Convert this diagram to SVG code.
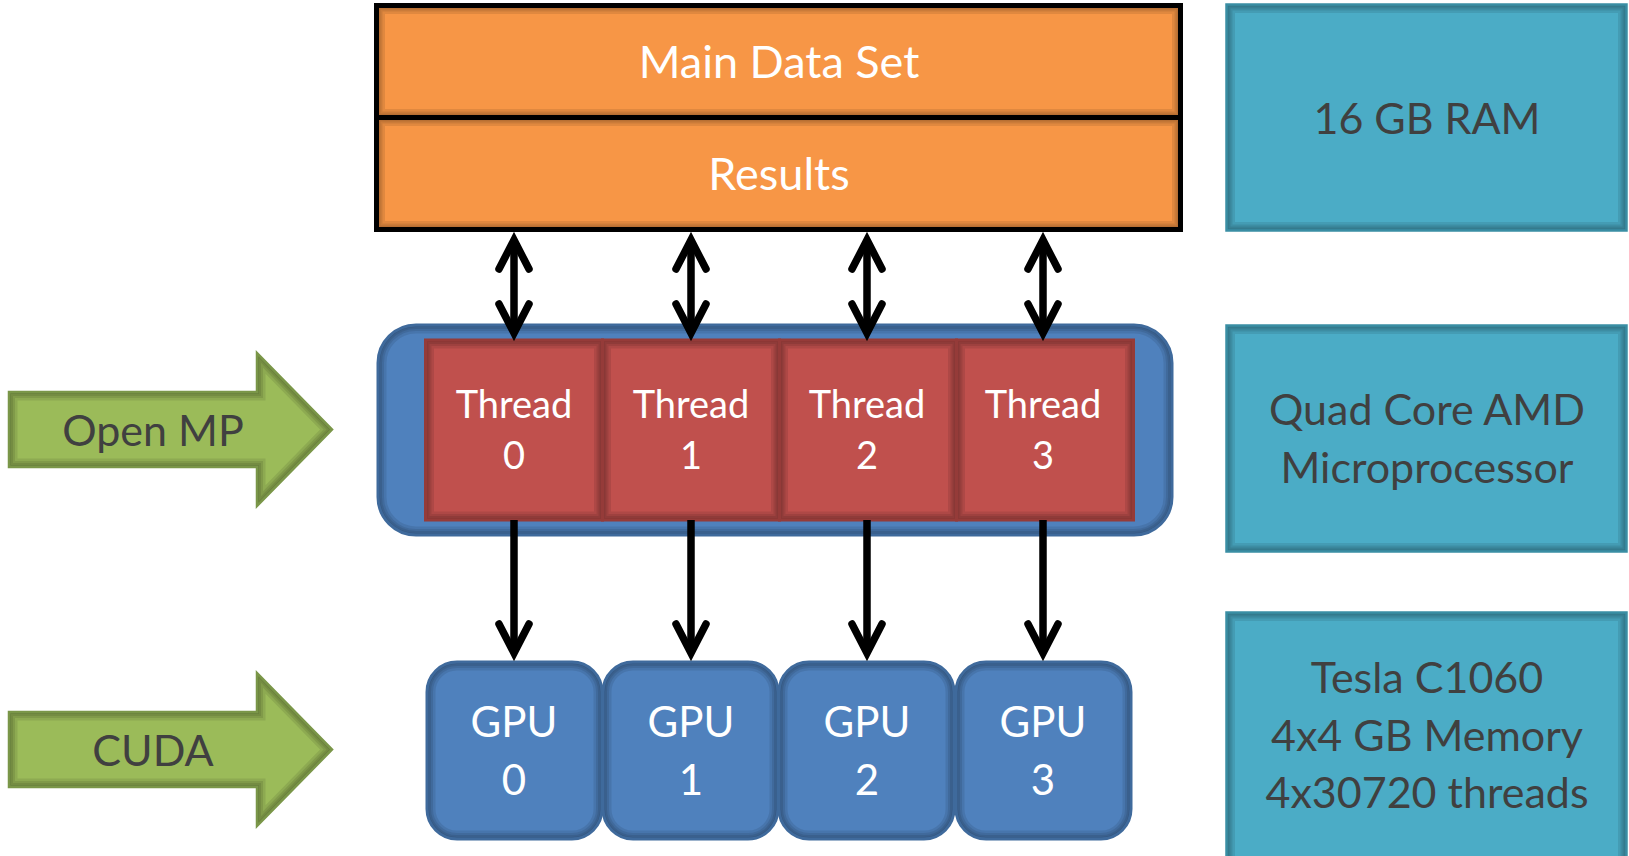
<svg xmlns="http://www.w3.org/2000/svg" xmlns:xlink="http://www.w3.org/1999/xlink" width="1629" height="856" viewBox="0 0 1629 856">
<style>
  .lbl { font-family: Lato, "Open Sans", sans-serif; text-anchor: middle; }
  .w { fill: #ffffff; }
  .d { fill: #404040; }
  .f-orange { fill: #F79646; stroke: none; }
  .l-orange { fill: none; stroke: #000000; stroke-width: 5; }
  .f-blue { fill: #4F81BD; stroke: none; }
  .l-blue { fill: none; stroke: #3F6A9C; stroke-width: 3; }
  .f-red { fill: #C0504D; stroke: none; }
  .l-red { fill: none; stroke: #953B39; stroke-width: 3; }
  .f-green { fill: #9BBB59; stroke: none; }
  .l-green { fill: none; stroke: #7A9648; stroke-width: 2.5; }
  .f-teal { fill: #4BACC6; stroke: none; }
  .l-teal { fill: none; stroke: #3A8EA4; stroke-width: 2.5; }
  .s1 { fill: none; stroke: #000000; stroke-opacity: 0.09; stroke-width: 4; }
  .s2 { fill: none; stroke: #000000; stroke-opacity: 0.09; stroke-width: 8; }
  .s3 { fill: none; stroke: #000000; stroke-opacity: 0.09; stroke-width: 12; }
  .s4 { fill: none; stroke: #000000; stroke-opacity: 0.09; stroke-width: 17; }
  .conn { stroke: #000000; stroke-width: 7.5; fill: none; }
</style>
<defs>
  <rect id="sOrange" width="804" height="112"/>
  <rect id="sProc" width="794" height="210" rx="38" ry="38"/>
  <rect id="sThread" width="177" height="180"/>
  <rect id="sGpu" width="175" height="177" rx="30" ry="30"/>
  <polygon id="sArrow" points="0,39 248,39 248,0 323,76.5 248,153 248,114 0,114"/>
  <rect id="sTeal" width="400" height="226"/>
  <rect id="sTealTall" width="400" height="262"/>

  <clipPath id="cOrange"><use xlink:href="#sOrange"/></clipPath>
  <clipPath id="cProc"><use xlink:href="#sProc"/></clipPath>
  <clipPath id="cThread"><use xlink:href="#sThread"/></clipPath>
  <clipPath id="cGpu"><use xlink:href="#sGpu"/></clipPath>
  <clipPath id="cArrow"><use xlink:href="#sArrow"/></clipPath>
  <clipPath id="cTeal"><use xlink:href="#sTeal"/></clipPath>
  <clipPath id="cTealTall"><use xlink:href="#sTealTall"/></clipPath>

  <g id="hOrange" clip-path="url(#cOrange)"><use xlink:href="#sOrange" class="s1"/><use xlink:href="#sOrange" class="s2"/><use xlink:href="#sOrange" class="s3"/><use xlink:href="#sOrange" class="s4"/></g>
  <g id="hProc" clip-path="url(#cProc)"><use xlink:href="#sProc" class="s1"/><use xlink:href="#sProc" class="s2"/><use xlink:href="#sProc" class="s3"/><use xlink:href="#sProc" class="s4"/></g>
  <g id="hThread" clip-path="url(#cThread)"><use xlink:href="#sThread" class="s1"/><use xlink:href="#sThread" class="s2"/><use xlink:href="#sThread" class="s3"/><use xlink:href="#sThread" class="s4"/></g>
  <g id="hGpu" clip-path="url(#cGpu)"><use xlink:href="#sGpu" class="s1"/><use xlink:href="#sGpu" class="s2"/><use xlink:href="#sGpu" class="s3"/><use xlink:href="#sGpu" class="s4"/></g>
  <g id="hArrow" clip-path="url(#cArrow)"><use xlink:href="#sArrow" class="s1"/><use xlink:href="#sArrow" class="s2"/><use xlink:href="#sArrow" class="s3"/><use xlink:href="#sArrow" class="s4"/></g>
  <g id="hTeal" clip-path="url(#cTeal)"><use xlink:href="#sTeal" class="s1"/><use xlink:href="#sTeal" class="s2"/><use xlink:href="#sTeal" class="s3"/><use xlink:href="#sTeal" class="s4"/></g>
  <g id="hTealTall" clip-path="url(#cTealTall)"><use xlink:href="#sTealTall" class="s1"/><use xlink:href="#sTealTall" class="s2"/><use xlink:href="#sTealTall" class="s3"/><use xlink:href="#sTealTall" class="s4"/></g>

  <marker id="head" markerUnits="userSpaceOnUse" viewBox="-40 -22 48 44" refX="0" refY="0" markerWidth="48" markerHeight="44" orient="auto-start-reverse" overflow="visible">
    <path d="M -29 -15 L 0 0 L -29 15" fill="none" stroke="#000000" stroke-width="7.5" stroke-linecap="round" stroke-linejoin="miter"/>
  </marker>
</defs>

<g id="memory">
  <g transform="translate(376.5,5.5)"><use xlink:href="#sOrange" class="f-orange"/><use xlink:href="#hOrange"/><use xlink:href="#sOrange" class="l-orange"/></g>
  <text class="lbl w" x="779" y="78" font-size="45">Main Data Set</text>
</g>
<g id="results">
  <g transform="translate(376.5,117.5)"><use xlink:href="#sOrange" class="f-orange"/><use xlink:href="#hOrange"/><use xlink:href="#sOrange" class="l-orange"/></g>
  <text class="lbl w" x="779" y="190" font-size="45">Results</text>
</g>

<g id="processor">
  <g transform="translate(378,325)"><use xlink:href="#sProc" class="f-blue"/><use xlink:href="#hProc"/><use xlink:href="#sProc" class="l-blue"/></g>
</g>
<g id="thread0">
  <g transform="translate(425.5,340)"><use xlink:href="#sThread" class="f-red"/><use xlink:href="#hThread"/><use xlink:href="#sThread" class="l-red"/></g>
  <text class="lbl w" x="514" y="418" font-size="38">Thread</text>
  <text class="lbl w" x="514" y="469" font-size="38">0</text>
</g>
<g id="thread1">
  <g transform="translate(602.5,340)"><use xlink:href="#sThread" class="f-red"/><use xlink:href="#hThread"/><use xlink:href="#sThread" class="l-red"/></g>
  <text class="lbl w" x="691" y="418" font-size="38">Thread</text>
  <text class="lbl w" x="691" y="469" font-size="38">1</text>
</g>
<g id="thread2">
  <g transform="translate(779.5,340)"><use xlink:href="#sThread" class="f-red"/><use xlink:href="#hThread"/><use xlink:href="#sThread" class="l-red"/></g>
  <text class="lbl w" x="867" y="418" font-size="38">Thread</text>
  <text class="lbl w" x="867" y="469" font-size="38">2</text>
</g>
<g id="thread3">
  <g transform="translate(956.5,340)"><use xlink:href="#sThread" class="f-red"/><use xlink:href="#hThread"/><use xlink:href="#sThread" class="l-red"/></g>
  <text class="lbl w" x="1043" y="418" font-size="38">Thread</text>
  <text class="lbl w" x="1043" y="469" font-size="38">3</text>
</g>

<g id="gpu0">
  <g transform="translate(427,662)"><use xlink:href="#sGpu" class="f-blue"/><use xlink:href="#hGpu"/><use xlink:href="#sGpu" class="l-blue"/></g>
  <text class="lbl w" x="514" y="737" font-size="42">GPU</text>
  <text class="lbl w" x="514" y="795" font-size="42">0</text>
</g>
<g id="gpu1">
  <g transform="translate(603,662)"><use xlink:href="#sGpu" class="f-blue"/><use xlink:href="#hGpu"/><use xlink:href="#sGpu" class="l-blue"/></g>
  <text class="lbl w" x="691" y="737" font-size="42">GPU</text>
  <text class="lbl w" x="691" y="795" font-size="42">1</text>
</g>
<g id="gpu2">
  <g transform="translate(779,662)"><use xlink:href="#sGpu" class="f-blue"/><use xlink:href="#hGpu"/><use xlink:href="#sGpu" class="l-blue"/></g>
  <text class="lbl w" x="867" y="737" font-size="42">GPU</text>
  <text class="lbl w" x="867" y="795" font-size="42">2</text>
</g>
<g id="gpu3">
  <g transform="translate(956,662)"><use xlink:href="#sGpu" class="f-blue"/><use xlink:href="#hGpu"/><use xlink:href="#sGpu" class="l-blue"/></g>
  <text class="lbl w" x="1043" y="737" font-size="42">GPU</text>
  <text class="lbl w" x="1043" y="795" font-size="42">3</text>
</g>

<g id="openmp">
  <g transform="translate(9,353)"><use xlink:href="#sArrow" class="f-green"/><use xlink:href="#hArrow"/><use xlink:href="#sArrow" class="l-green"/></g>
  <text class="lbl d" x="153" y="446" font-size="43">Open MP</text>
</g>
<g id="cuda">
  <g transform="translate(9,673)"><use xlink:href="#sArrow" class="f-green"/><use xlink:href="#hArrow"/><use xlink:href="#sArrow" class="l-green"/></g>
  <text class="lbl d" x="153" y="766" font-size="43">CUDA</text>
</g>

<g id="ram">
  <g transform="translate(1226.5,4.5)"><use xlink:href="#sTeal" class="f-teal"/><use xlink:href="#hTeal"/><use xlink:href="#sTeal" class="l-teal"/></g>
  <text class="lbl d" x="1427" y="134" font-size="43">16 GB RAM</text>
</g>
<g id="cpu">
  <g transform="translate(1226.5,325.5)"><use xlink:href="#sTeal" class="f-teal"/><use xlink:href="#hTeal"/><use xlink:href="#sTeal" class="l-teal"/></g>
  <text class="lbl d" x="1427" y="425" font-size="43">Quad Core AMD</text>
  <text class="lbl d" x="1427" y="483" font-size="43">Microprocessor</text>
</g>
<g id="tesla">
  <g transform="translate(1226.5,612.5)"><use xlink:href="#sTealTall" class="f-teal"/><use xlink:href="#hTealTall"/><use xlink:href="#sTealTall" class="l-teal"/></g>
  <text class="lbl d" x="1427" y="693" font-size="43">Tesla C1060</text>
  <text class="lbl d" x="1427" y="751" font-size="43">4x4 GB Memory</text>
  <text class="lbl d" x="1427" y="808" font-size="43">4x30720 threads</text>
</g>

<g id="connectors">
  <line class="conn" x1="514" y1="240" x2="514" y2="333" marker-start="url(#head)" marker-end="url(#head)"/>
  <line class="conn" x1="691" y1="240" x2="691" y2="333" marker-start="url(#head)" marker-end="url(#head)"/>
  <line class="conn" x1="867" y1="240" x2="867" y2="333" marker-start="url(#head)" marker-end="url(#head)"/>
  <line class="conn" x1="1043" y1="240" x2="1043" y2="333" marker-start="url(#head)" marker-end="url(#head)"/>
  <line class="conn" x1="514" y1="520" x2="514" y2="653" marker-end="url(#head)"/>
  <line class="conn" x1="691" y1="520" x2="691" y2="653" marker-end="url(#head)"/>
  <line class="conn" x1="867" y1="520" x2="867" y2="653" marker-end="url(#head)"/>
  <line class="conn" x1="1043" y1="520" x2="1043" y2="653" marker-end="url(#head)"/>
</g>
</svg>
